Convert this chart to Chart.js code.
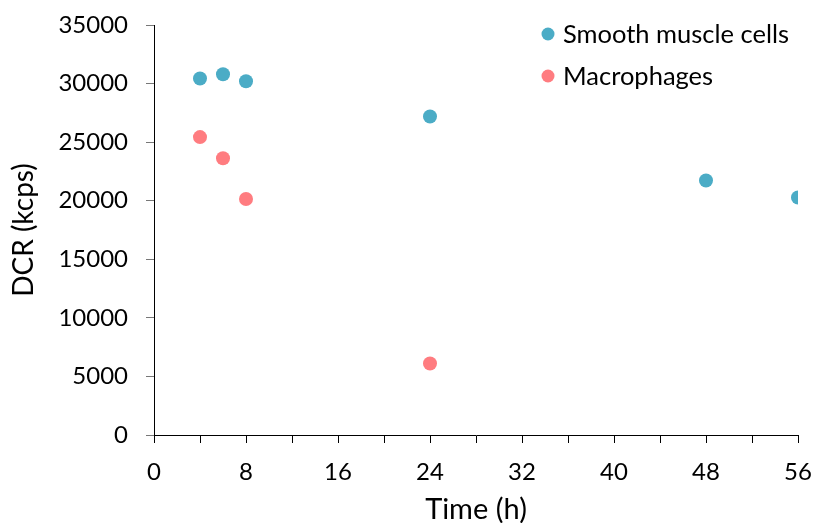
<!DOCTYPE html>
<html>
<head>
<meta charset="utf-8">
<script src="https://cdn.jsdelivr.net/npm/chart.js@4/dist/chart.umd.min.js"></script>
<style>
  html, body { margin: 0; padding: 0; background: #fff; }
  #wrap { width: 813px; height: 523px; position: relative; }
</style>
</head>
<body>
<div id="wrap"><canvas id="chart"></canvas></div>
<script>
// data
const smcTime = [4, 6, 8, 24, 48, 56];
const smcDCR = [30430, 30790, 30200, 27190, 21730, 20280];
const macTime = [4, 6, 8, 24];
const macDCR = [25430, 23630, 20140, 6110];
const seriesNames = ['Smooth muscle cells', 'Macrophages'];
const seriesColors = ['#4BACC6', '#FF7C80'];

const FONT = 'Lato, "Open Sans", sans-serif';

function toPoints(xs, ys) {
    return xs.map((x, i) => ({ x: x, y: ys[i] }));
}

// legend drawn inside the plot, top right, stacked
const innerLegend = {
    id: 'innerLegend',
    afterDraw(chart) {
        const ctx = chart.ctx;
        const x0 = 548, y0 = 34, gap = 42;
        ctx.save();
        ctx.font = '25.5px ' + FONT;
        ctx.textBaseline = 'middle';
        chart.data.datasets.forEach((ds, i) => {
            const y = y0 + i * gap;
            ctx.fillStyle = ds.backgroundColor;
            ctx.beginPath();
            ctx.arc(x0, y, 6.5, 0, Math.PI * 2);
            ctx.fill();
            ctx.fillStyle = '#000';
            ctx.fillText(ds.label, x0 + 15, y + 1);
        });
        ctx.restore();
    }
};

new Chart(document.getElementById('chart').getContext('2d'), {
    type: 'scatter',
    data: {
        datasets: [{
            label: seriesNames[0],
            data: toPoints(smcTime, smcDCR),
            backgroundColor: seriesColors[0],
            borderWidth: 0,
            pointRadius: 7
        }, {
            label: seriesNames[1],
            data: toPoints(macTime, macDCR),
            backgroundColor: seriesColors[1],
            borderWidth: 0,
            pointRadius: 7
        }]
    },
    options: {
        responsive: true,
        maintainAspectRatio: false,
        animation: false,
        layout: { padding: { left: 0, right: 15, top: 25, bottom: 0 } },
        plugins: {
            legend: { display: false },
            tooltip: { enabled: false }
        },
        scales: {
            x: {
                type: 'linear',
                min: 0,
                max: 56,
                afterFit(scale) {
                    scale.height = 88;
                    scale.paddingLeft = 0;
                    scale.paddingRight = 0;
                },
                ticks: {
                    stepSize: 4,
                    autoSkip: false,
                    maxRotation: 0,
                    padding: 15,
                    color: '#000',
                    font: { family: FONT, size: 24 },
                    callback: v => (v % 8 === 0 ? String(v) : '')
                },
                grid: {
                    drawOnChartArea: false,
                    drawTicks: true,
                    tickLength: 8,
                    tickColor: '#000'
                },
                border: { display: true, color: '#000', width: 1 },
                title: {
                    display: true,
                    text: 'Time (h)',
                    color: '#000',
                    font: { family: FONT, size: 29 },
                    padding: { top: 0, bottom: -4 }
                }
            },
            y: {
                min: 0,
                max: 35000,
                afterFit(scale) {
                    scale.width = 154;
                    scale.paddingTop = 0;
                    scale.paddingBottom = 0;
                },
                ticks: {
                    stepSize: 5000,
                    padding: 18,
                    color: '#000',
                    font: { family: FONT, size: 24 },
                    callback: v => String(v)
                },
                grid: {
                    drawOnChartArea: false,
                    drawTicks: true,
                    tickLength: 8,
                    tickColor: '#777'
                },
                border: { display: true, color: '#000', width: 1 },
                title: {
                    display: true,
                    text: 'DCR (kcps)',
                    color: '#000',
                    font: { family: FONT, size: 28 },
                    padding: { top: 7, bottom: 0 }
                }
            }
        }
    },
    plugins: [innerLegend]
});
</script>
</body>
</html>
